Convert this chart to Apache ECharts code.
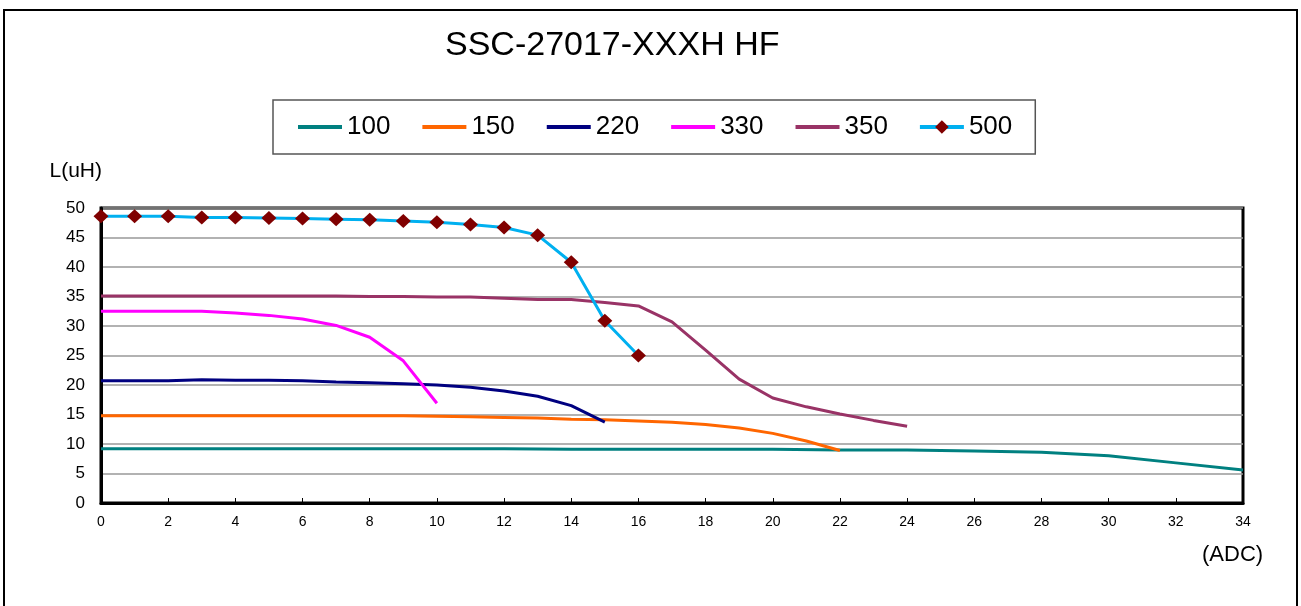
<!DOCTYPE html>
<html>
<head>
<meta charset="utf-8">
<script src="https://cdn.jsdelivr.net/npm/echarts@6/dist/echarts.min.js"></script>
<style>html,body{margin:0;padding:0;background:#fff;}#c{width:1301px;height:606px;}</style>
</head>
<body>
<div id="c"></div>
<script>
var titleText = 'SSC-27017-XXXH HF';
var seriesNames = ['100', '150', '220', '330', '350', '500'];
var xTicks = [0, 2, 4, 6, 8, 10, 12, 14, 16, 18, 20, 22, 24, 26, 28, 30, 32, 34];
var yTicks = [0, 5, 10, 15, 20, 25, 30, 35, 40, 45, 50];

var x100 = [0, 2, 4, 6, 8, 10, 12, 14, 16, 18, 20, 22, 24, 26, 28, 30, 32, 34];
var y100 = [9.2, 9.2, 9.2, 9.2, 9.2, 9.2, 9.2, 9.1, 9.1, 9.1, 9.1, 9.0, 9.0, 8.8, 8.6, 8.0, 6.8, 5.6];

var x150 = [0, 2, 4, 6, 8, 9, 10, 11, 12, 13, 14, 15, 16, 17, 18, 19, 20, 21, 22];
var y150 = [14.8, 14.8, 14.8, 14.8, 14.8, 14.8, 14.7, 14.6, 14.5, 14.4, 14.2, 14.1, 13.9, 13.7, 13.3, 12.7, 11.8, 10.5, 8.9];

var x220 = [0, 1, 2, 3, 4, 5, 6, 7, 8, 9, 10, 11, 12, 13, 14, 15];
var y220 = [20.7, 20.7, 20.7, 20.9, 20.8, 20.8, 20.7, 20.5, 20.4, 20.2, 20.0, 19.6, 19.0, 18.1, 16.5, 13.7];

var x330 = [0, 1, 2, 3, 4, 5, 6, 7, 8, 9, 10];
var y330 = [32.5, 32.5, 32.5, 32.5, 32.2, 31.8, 31.2, 30.1, 28.1, 24.1, 16.9];

var x350 = [0, 1, 2, 3, 4, 5, 6, 7, 8, 9, 10, 11, 12, 13, 14, 15, 16, 17, 18, 19, 20, 21, 22, 23, 24];
var y350 = [35.1, 35.1, 35.1, 35.1, 35.1, 35.1, 35.1, 35.1, 35.0, 35.0, 34.9, 34.9, 34.7, 34.5, 34.5, 34.0, 33.4, 30.7, 25.9, 21.0, 17.8, 16.3, 15.1, 14.0, 13.0];

var x500 = [0, 1, 2, 3, 4, 5, 6, 7, 8, 9, 10, 11, 12, 13, 14, 15, 16];
var y500 = [48.6, 48.6, 48.6, 48.4, 48.4, 48.3, 48.2, 48.1, 48.0, 47.8, 47.6, 47.2, 46.7, 45.4, 40.8, 30.9, 25.0];

var colors = ['#008080', '#FF6600', '#000080', '#FF00FF', '#993366', '#00B0F0'];
var markerColor = '#800000';

function pairs(xs, ys) { return xs.map(function (x, i) { return [x, ys[i]]; }); }
var allX = [x100, x150, x220, x330, x350, x500];
var allY = [y100, y150, y220, y330, y350, y500];

var FONT = 'Liberation Sans, Arial, sans-serif';

var series = seriesNames.map(function (n, i) {
  var isMarked = (i === 5);
  return {
    name: n,
    type: 'line',
    data: pairs(allX[i], allY[i]),
    showSymbol: isMarked,
    symbol: isMarked ? 'diamond' : 'none',
    symbolSize: isMarked ? [15, 14] : 0,
    itemStyle: { color: isMarked ? markerColor : colors[i] },
    lineStyle: { color: colors[i], width: 3 },
    color: colors[i],
    z: 2 + i,
    animation: false
  };
});

var legendData = seriesNames.map(function (n, i) {
  if (i === 5) return { name: n };
  return { name: n, itemStyle: { color: 'rgba(0,0,0,0)', opacity: 0, borderWidth: 0 } };
});

var chart = echarts.init(document.getElementById('c'), null, { renderer: 'canvas' });
chart.setOption({
  animation: false,
  backgroundColor: '#fff',
  title: {
    text: titleText,
    left: 445,
    top: 29,
    padding: 0,
    textStyle: { fontFamily: FONT, fontSize: 34, fontWeight: 'normal', color: '#000' }
  },
  legend: {
    data: legendData,
    left: 273,
    top: 100,
    orient: 'horizontal',
    padding: [14, 23, 14, 23],
    itemGap: 30,
    itemWidth: 44,
    itemHeight: 17,
    borderColor: '#555',
    borderWidth: 1.5,
    lineStyle: { width: 4 },
    textStyle: { fontFamily: FONT, fontSize: 26, color: '#000' }
  },
  grid: {
    left: 101, top: 208, width: 1142, height: 295,
    show: true, borderColor: '#000', borderWidth: 3, backgroundColor: 'transparent'
  },
  xAxis: {
    type: 'value', min: 0, max: 34, interval: 2,
    axisLine: { show: true, lineStyle: { color: '#000', width: 3 } },
    axisTick: { show: true, inside: true, length: 5, lineStyle: { color: '#000', width: 1 } },
    axisLabel: { fontFamily: FONT, fontSize: 14, color: '#000', margin: 12 },
    splitLine: { show: false }
  },
  yAxis: {
    type: 'value', min: 0, max: 50, interval: 5,
    name: 'L(uH)',
    nameLocation: 'end',
    nameGap: 26,
    nameTextStyle: { fontFamily: FONT, fontSize: 21, color: '#000', align: 'right', padding: [0, -1, 0, 0] },
    axisLine: { show: true, lineStyle: { color: '#000', width: 3 } },
    axisTick: { show: false },
    axisLabel: { fontFamily: FONT, fontSize: 17, color: '#000', margin: 16 },
    splitLine: { show: true, lineStyle: { color: '#999', width: 1.5 } }
  },
  graphic: [
    { type: 'rect', silent: true, z: -1,
      shape: { x: 4, y: 10, width: 1293, height: 640 },
      style: { fill: 'none', stroke: '#000', lineWidth: 2 } },
    { type: 'text', left: 1202, top: 544,
      style: { text: '(ADC)', fontFamily: FONT, fontSize: 22, fill: '#000' } }
  ],
  series: series
});
</script>
</body>
</html>
